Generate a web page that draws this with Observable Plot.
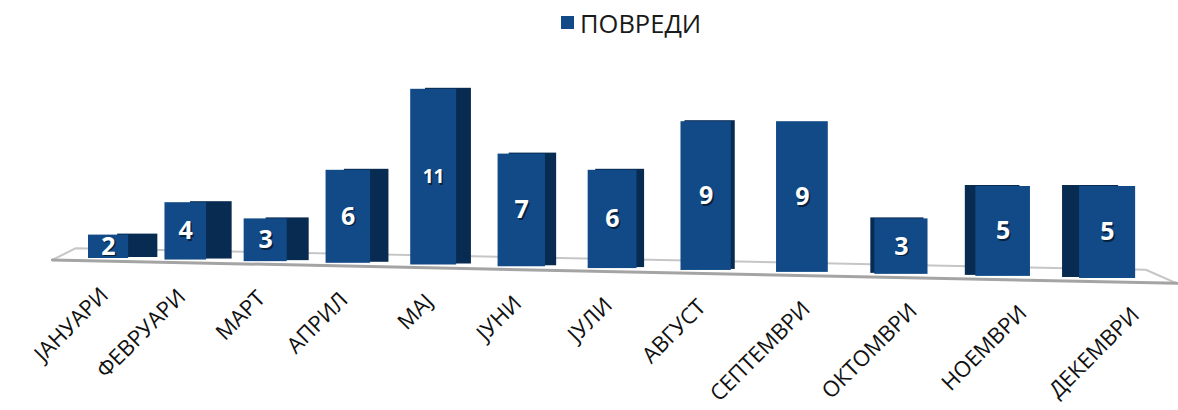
<!DOCTYPE html>
<html><head><meta charset="utf-8">
<script src="https://cdn.jsdelivr.net/npm/d3@7"></script>
<script src="https://cdn.jsdelivr.net/npm/@observablehq/plot@0.6"></script>
<style>
body{margin:0;background:#fff;font-family:"Open Sans",sans-serif;}
#legend{height:45px;display:flex;align-items:center;padding-left:561px;font-size:25.5px;color:#1a1a1a;}
#legend .sw{display:inline-block;width:13px;height:13px;background:#114a86;margin-right:6px;}
</style></head><body>
<div id="legend"><span class="sw"></span><span id="lname"></span></div>
<div id="chart"></div>
<script>
const seriesName = "ПОВРЕДИ";
const months = ["ЈАНУАРИ","ФЕВРУАРИ","МАРТ","АПРИЛ","МАЈ","ЈУНИ","ЈУЛИ","АВГУСТ","СЕПТЕМВРИ","ОКТОМВРИ","НОЕМВРИ","ДЕКЕМВРИ"];
const injuries = [2,4,3,6,11,7,6,9,9,3,5,5];

document.getElementById("lname").textContent = seriesName;

// perspective helpers (layout only)
const P = 27.8;                       // offset of the pow (perspective) x scale
const XR = [108, 1107];               // pixel range of first/last month
const YD = [0, 12], YR = [222, 27.6]; // value scale
const PXU = (YR[0] - YR[1]) / (YD[1] - YD[0]);
const n = months.length;
const xpx = i => XR[0] + (XR[1]-XR[0]) * ((i+P)**2 - P**2) / ((n-1+P)**2 - P**2);
const bottomPx = i => 213 + (xpx(i) - XR[0]) * 0.02;   // sloping floor
const toVal = py => (YR[0] - py) / PXU;
const HALF = 0.265;
const FRONT = "#114a86", SIDE = "#082b52";
function sideDepth(i){ return i < 8 ? (8.1 - i) * 3.6 : i === 8 ? 0 : -((i - 8) * 6.5 - 2.5); }
function labelDx(i){ return i <= 7 ? -10 : -10 + (i - 7) * 8; }

const data = months.map((m, i) => ({month: m, value: injuries[i], i, v: i + P}));

// floor plate outline (derived from the floor slope)
const fl = (i, off) => ({v: i + P, y: toVal(bottomPx(i) + off)});
const floorFront = [fl(-0.75, 2.5), fl(n - 1 + 0.65, 3.5)];
const floorBack = [fl(-0.75, 2.5), fl(-0.44, -9.5), fl(n - 1 + 0.36, -9.5), fl(n - 1 + 0.65, 3.5)];

const barMarks = [];
for (const d of data) {
  const ib = YR[0] - bottomPx(d.i);
  const dep = sideDepth(d.i);
  if (dep !== 0) barMarks.push(Plot.rectY([d], {x1: e => e.v - HALF, x2: e => e.v + HALF, y: "value",
      fill: SIDE, dx: dep, dy: -1, insetBottom: ib}));
  barMarks.push(Plot.rectY([d], {x1: e => e.v - HALF, x2: e => e.v + HALF, y: "value",
      fill: FRONT, insetBottom: ib}));
  const fs = d.value >= 10 ? 19 : 25;
  barMarks.push(Plot.text([d], {x: "v", y: e => e.value / 2, text: e => String(e.value),
      fill: "#04152b", dx: 1.5, dy: -ib / 2 + 1.5, fontWeight: "bold", fontSize: fs, fillOpacity: 0.8}));
  barMarks.push(Plot.text([d], {x: "v", y: e => e.value / 2, text: e => String(e.value),
      fill: "#fff", dy: -ib / 2, fontWeight: "bold", fontSize: fs}));
  barMarks.push(Plot.text([d], {x: "v", y: 0, text: "month", rotate: -45, textAnchor: "end",
      lineAnchor: "top", fontSize: 22, fill: "#111",
      dx: labelDx(d.i), dy: bottomPx(d.i) - YR[0] + 27}));
}

const chart = Plot.plot({
  width: 1178, height: 365,
  marginLeft: 0, marginRight: 0, marginTop: 0, marginBottom: 0,
  x: {type: "pow", exponent: 2, domain: [P, P + n - 1], range: XR, axis: null},
  y: {domain: YD, range: YR, axis: null},
  style: {fontFamily: "Open Sans", color: "#111", background: "#fff", overflow: "visible"},
  marks: [
    Plot.line(floorBack, {x: "v", y: "y", stroke: "#c6c6c6", strokeWidth: 2}),
    Plot.line(floorFront, {x: "v", y: "y", stroke: "#a4a4a4", strokeWidth: 3}),
    ...barMarks
  ]
});
document.getElementById("chart").appendChild(chart);
</script>
</body></html>
